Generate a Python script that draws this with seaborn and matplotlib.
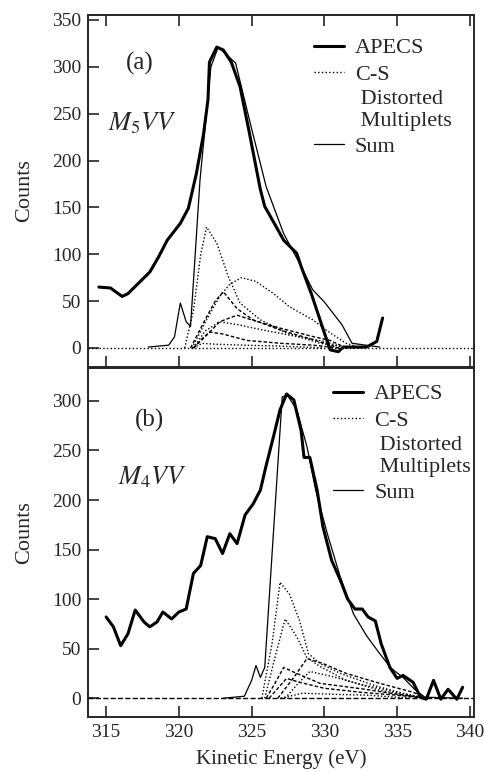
import matplotlib
matplotlib.use("Agg")
import matplotlib.pyplot as plt
from matplotlib.lines import Line2D
import seaborn as sns

sns.set_style("ticks")
plt.rcParams['font.family'] = ['Liberation Serif', 'DejaVu Serif']
plt.rcParams['mathtext.fontset'] = 'stix'

# ---- panel (a): M5VV ----
apecs_a_x = [314.5, 315.3, 316.1, 316.5, 318.0, 318.6, 319.2, 320.1, 320.65, 321.2, 321.7, 322.0,
             322.1, 322.6, 323.05, 323.6, 324.2, 324.8, 325.6, 325.9, 326.7, 327.2, 328.1, 328.4,
             329.1, 330.0, 330.4, 330.95, 331.3, 332.9, 333.6, 334.0]
apecs_a_y = [65, 64, 55, 58, 81, 97, 115, 133, 149, 186, 229, 265, 305, 321, 318, 305, 279, 233,
             169, 151, 129, 115, 101, 87, 58, 16, -2, -4, 1, 1, 7, 32]

sum_a_x = [317.9, 319.3, 319.7, 320.1, 320.5, 320.8, 321.45, 322.2, 322.7, 323.9, 324.9, 326.0,
           327.2, 328.3, 329.2, 330.0, 331.2, 331.9, 333.8]
sum_a_y = [1, 3, 12, 48, 28, 23, 179, 300, 321, 304, 240, 172, 122, 90, 62, 49, 25, 5, 1]

comps_a = [
    ([320.4, 321.0, 321.5, 321.9, 322.6, 323.4, 324.2, 325.6, 327.4, 329.7, 332.0],
     [0, 40, 100, 129, 112, 76, 48, 30, 16, 5, 0]),
    ([320.9, 321.9, 322.8, 323.5, 324.3, 325.3, 326.5, 327.6, 329.2, 330.4, 331.5, 332.5],
     [0, 30, 55, 68, 75, 71, 58, 44, 30, 16, 5, 0]),
    ([320.8, 321.9, 322.5, 323.05, 324.0, 325.1, 327.0, 329.2, 331.0],
     [0, 33, 50, 60, 42, 30, 19, 9, 0]),
    ([321.0, 322.0, 322.8, 324.0, 325.0, 327.0, 329.0, 330.4, 331.5],
     [0, 15, 28, 35, 30, 21, 13, 8, 0]),
    ([321.0, 321.8, 322.8, 324.0, 325.5, 327.5, 330.0, 331.5],
     [0, 18, 28, 25, 20, 14, 7, 0]),
    ([321.0, 321.6, 322.1, 323.0, 324.7, 327.0, 329.2, 331.0],
     [0, 10, 17, 15, 8, 5, 3, 0]),
    ([321.0, 321.6, 322.5, 324.5, 327.0, 330.0],
     [0, 5, 4, 3, 2, 0]),
]

# ---- panel (b): M4VV ----
apecs_b_x = [315.0, 315.5, 316.0, 316.5, 317.0, 317.6, 318.0, 318.5, 318.9, 319.5, 320.0, 320.5,
             321.0, 321.5, 321.95, 322.5, 323.0, 323.5, 324.0, 324.55, 325.1, 325.6, 326.0, 326.5,
             326.95, 327.4, 327.9, 328.4, 328.6, 329.0, 329.5, 329.9, 330.5, 331.1, 331.6, 332.1,
             332.6, 333.0, 333.5, 333.9, 334.5, 335.0, 335.4, 336.1, 336.6, 337.0, 337.5, 338.0,
             338.5, 339.1, 339.5]
apecs_b_y = [82, 72, 53, 65, 89, 77, 72, 77, 87, 80, 87, 90, 126, 134, 163, 161, 146, 166, 156,
             185, 196, 210, 235, 264, 291, 307, 301, 270, 243, 243, 210, 173, 139, 119, 100, 90,
             90, 82, 78, 55, 31, 20, 23, 16, 1, -1, 18, -1, 9, -1, 11]

sum_b_x = [323.05, 324.5, 325.0, 325.3, 325.6, 325.9, 327.1, 327.45, 328.1, 328.8, 329.4, 330.2,
           331.1, 332.0, 332.9, 333.8, 334.6, 335.4, 336.2, 336.9, 339.5]
sum_b_y = [0, 2, 18, 33, 21, 31, 304, 306, 291, 254, 210, 166, 122, 85, 63, 45, 30, 21, 9, 1, 0]

comps_b = [
    ([325.7, 326.4, 326.95, 327.6, 328.3, 328.9, 329.7, 331.1, 333.4, 335.6, 337.0],
     [0, 55, 117, 105, 78, 45, 35, 25, 13, 4, 0]),
    ([325.9, 326.6, 327.3, 328.1, 328.8, 329.7, 331.5, 333.8, 335.6, 337.0],
     [0, 41, 80, 62, 41, 32, 18, 8, 3, 0]),
    ([326.8, 327.9, 328.8, 329.9, 331.5, 333.8, 336.1, 337.0],
     [0, 21, 40, 35, 25, 15, 6, 0]),
    ([326.0, 326.6, 327.2, 328.1, 329.7, 332.8, 335.0, 337.0],
     [0, 15, 31, 25, 15, 9, 4, 0]),
    ([327.3, 328.2, 329.0, 330.5, 332.5, 335.0, 337.0],
     [0, 15, 27, 22, 14, 6, 0]),
    ([326.2, 326.8, 327.4, 328.3, 330.0, 332.5, 335.0, 337.0],
     [0, 10, 20, 16, 10, 6, 3, 0]),
    ([327.0, 328.5, 330.5, 333.0, 336.0],
     [0, 5, 4, 3, 0]),
]

xticks = [315, 320, 325, 330, 335, 340]
yticks_a = [0, 50, 100, 150, 200, 250, 300, 350]
yticks_b = [0, 50, 100, 150, 200, 250, 300]

fig = plt.figure(figsize=(4.84, 7.72), dpi=100)
ax1 = fig.add_axes([0.182, 0.5246, 0.797, 0.456])
ax2 = fig.add_axes([0.182, 0.0712, 0.797, 0.4518])

comp_styles = [(1, 1.5), (1, 1.5), (2.5, 1.5), (2.5, 1.5), (1, 1.5), (2.5, 1.5), (1, 1.5)]


def draw_panel(ax, ax_x, ax_y, sx, sy, comps, base_ls):
    ax.axhline(0, color='black', lw=1, ls=base_ls, zorder=1)
    for (cx, cy), d in zip(comps, comp_styles):
        sns.lineplot(x=cx, y=cy, ax=ax, color='black', lw=1.0, zorder=2)
        ax.lines[-1].set_dashes(d)
    sns.lineplot(x=sx, y=sy, ax=ax, color='black', lw=0.9, zorder=3)
    sns.lineplot(x=ax_x, y=ax_y, ax=ax, color='black', lw=2.2, zorder=4)
    ax.set_xlim(313.76, 340.27)
    ax.set_xticks(xticks)
    for s in ax.spines.values():
        s.set_linewidth(1.4)
        s.set_visible(True)
    ax.tick_params(direction='in', length=8, width=1.2, labelsize=14, pad=5)
    handles = [Line2D([], [], color='black', lw=2.2),
               Line2D([], [], color='black', lw=1.0, ls=':'),
               Line2D([], [], ls='none'),
               Line2D([], [], color='black', lw=0.9)]
    labels = ['APECS', 'C-S', ' Distorted\n Multiplets', 'Sum']
    return handles, labels


leg_kw = dict(loc='upper left', frameon=False, fontsize=16, handlelength=1.35,
              handletextpad=0.5, labelspacing=0.25, borderpad=0, borderaxespad=0)

h, l = draw_panel(ax1, apecs_a_x, apecs_a_y, sum_a_x, sum_a_y, comps_a, ':')
ax1.set_ylim(-20.3, 355.3)
ax1.set_yticks(yticks_a)
ax1.tick_params(axis='x', top=True, labelbottom=False)
ax1.legend(h, l, bbox_to_anchor=(0.585, 0.935), **leg_kw)
ax1.text(317.3, 304, '(a)', fontsize=18, ha='center', va='center')
ax1.text(317.5, 240, r'$M_5VV$', fontsize=19, ha='center', va='center')
ax1.set_xlabel('')
ax1.set_ylabel('Counts', fontsize=16)
ax1.yaxis.set_label_coords(-0.14, 0.5)

h, l = draw_panel(ax2, apecs_b_x, apecs_b_y, sum_b_x, sum_b_y, comps_b, '--')
ax2.set_ylim(-19, 333)
ax2.set_yticks(yticks_b)
ax2.legend(h, l, bbox_to_anchor=(0.635, 0.955), **leg_kw)
ax2.text(318.0, 280, '(b)', fontsize=18, ha='center', va='center')
ax2.text(318.2, 223, r'$M_4VV$', fontsize=19, ha='center', va='center')
ax2.set_xlabel('Kinetic Energy (eV)', fontsize=15, labelpad=6)
ax2.set_ylabel('Counts', fontsize=16)
ax2.yaxis.set_label_coords(-0.14, 0.53)

fig.savefig('out.png', dpi=100)
